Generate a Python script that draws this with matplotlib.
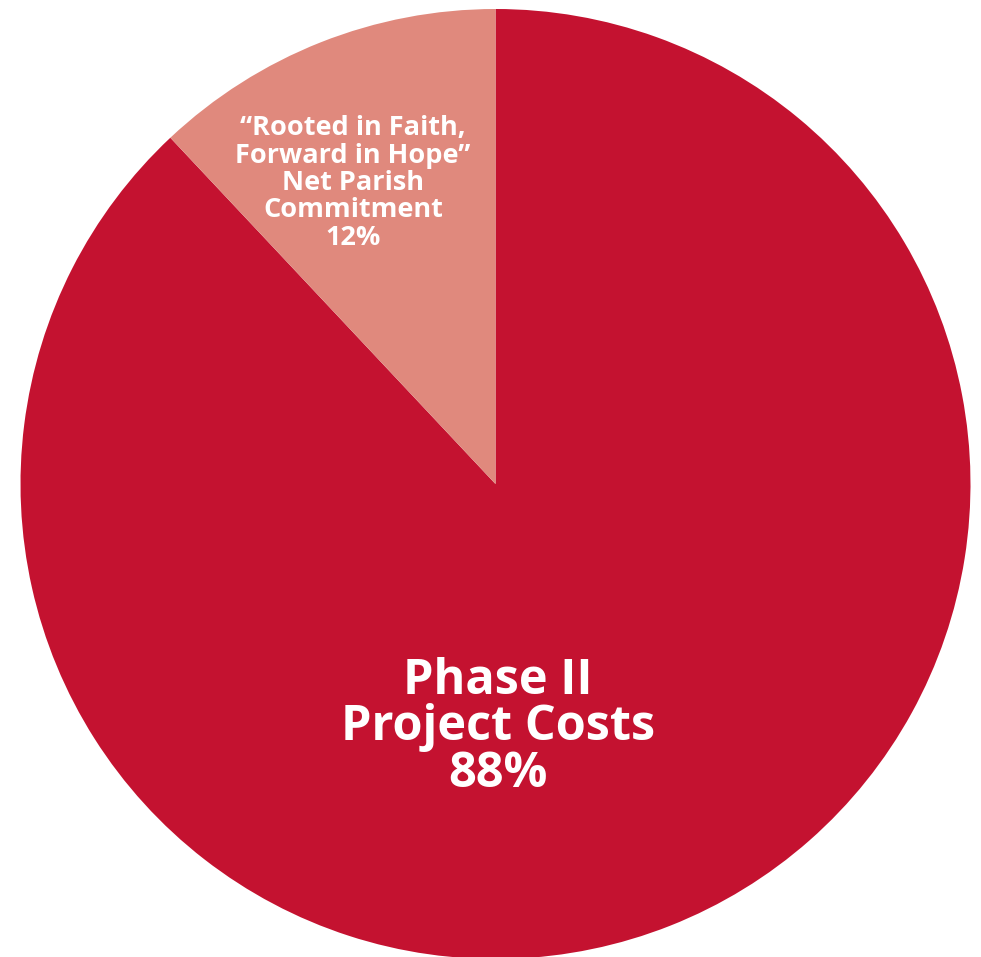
import matplotlib.pyplot as plt

labels = ['Phase II\nProject Costs\n88%',
          '\u201cRooted in Faith,\nForward in Hope\u201d\nNet Parish\nCommitment\n12%']
shares = [88, 12]
colors = ['#C41230', '#E0897D']

W, H = 981, 957
cx, cy, r = 495.5, 484, 475

fig = plt.figure(figsize=(W / 100, H / 100), dpi=100)
ax = fig.add_axes([(cx - r) / W, (H - cy - r) / H, 2 * r / W, 2 * r / H])
ax.pie(shares, colors=colors, startangle=90, counterclock=False,
       radius=1, wedgeprops=dict(linewidth=0))
ax.set_xlim(-1, 1)
ax.set_ylim(-1, 1)
ax.set_aspect('equal')
ax.axis('off')

def px(x, y):
    return (x - cx) / r, (cy - y) / r

ax.text(*px(498, 728), labels[0], ha='center', va='center', color='white',
        fontsize=35, fontweight='bold', family='Open Sans', linespacing=0.93)
ax.text(*px(353, 183), labels[1], ha='center', va='center', color='white',
        fontsize=19.5, fontweight='bold', family='Open Sans', linespacing=1.07)

fig.savefig('out.png', dpi=100)
